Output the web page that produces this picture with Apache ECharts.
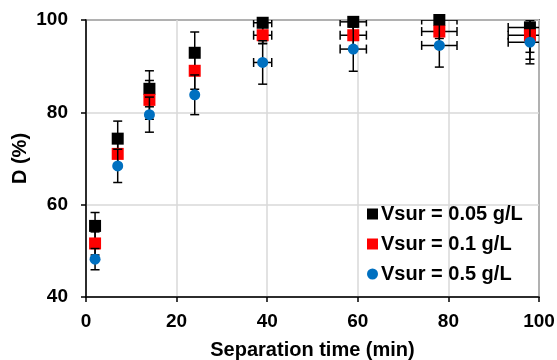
<!DOCTYPE html>
<html>
<head>
<meta charset="utf-8">
<script src="https://cdn.jsdelivr.net/npm/echarts@6/dist/echarts.min.js"></script>
<style>
html,body{margin:0;padding:0;background:#fff;}
#chart{width:557px;height:360px;}
</style>
</head>
<body>
<div id="chart"></div>
<script>
const times = [2, 7, 14, 24, 39, 59, 78, 98];
const timeErr = [0, 0, 0, 0, 2.0, 2.9, 3.9, 4.8];
const d005 = [55.4, 74.3, 85.1, 92.9, 99.4, 99.6, 100, 98.4];
const d01 = [51.6, 71.0, 82.7, 89.0, 96.7, 96.7, 97.5, 96.7];
const d05 = [48.2, 68.4, 79.5, 83.8, 90.8, 93.7, 94.5, 95.2];
const err005 = [2.9, 3.8, 3.9, 4.5, 4.5, 4.0, 4.0, 5.4];
const err01 = [2.5, 3.0, 4.2, 4.0, 1.8, 3.0, 3.0, 5.2];
const err05 = [2.3, 3.6, 3.8, 4.3, 4.7, 4.8, 4.7, 4.7];
const xTicks = [0, 20, 40, 60, 80, 100];
const yTicks = [40, 60, 80, 100];
const names = ['Vsur = 0.05 g/L', 'Vsur = 0.1 g/L', 'Vsur = 0.5 g/L'];

const FONT = "'Liberation Sans', Arial, sans-serif";
const chart = echarts.init(document.getElementById('chart'), null, {renderer: 'canvas'});

function errData(vals, errs) {
  return times.map((t, i) => [t, vals[i], errs[i], timeErr[i]]);
}
function renderErr(params, api) {
  const x = api.value(0), y = api.value(1), ye = api.value(2), xe = api.value(3);
  const c = api.coord([x, y]);
  const top = api.coord([x, y + ye]);
  const bot = api.coord([x, y - ye]);
  const cap = 4.5;
  const st = {stroke: '#000', lineWidth: 1.5};
  const ch = [
    {type: 'line', shape: {x1: c[0], y1: top[1], x2: c[0], y2: bot[1]}, style: st},
    {type: 'line', shape: {x1: c[0] - cap, y1: top[1], x2: c[0] + cap, y2: top[1]}, style: st},
    {type: 'line', shape: {x1: c[0] - cap, y1: bot[1], x2: c[0] + cap, y2: bot[1]}, style: st}
  ];
  if (xe > 0) {
    const l = api.coord([x - xe, y]);
    const r = api.coord([x + xe, y]);
    ch.push({type: 'line', shape: {x1: l[0], y1: c[1], x2: r[0], y2: c[1]}, style: st});
    ch.push({type: 'line', shape: {x1: l[0], y1: c[1] - cap, x2: l[0], y2: c[1] + cap}, style: st});
    ch.push({type: 'line', shape: {x1: r[0], y1: c[1] - cap, x2: r[0], y2: c[1] + cap}, style: st});
  }
  return {type: 'group', children: ch};
}

const series = [];
const vals = [d005, d01, d05];
const errs = [err005, err01, err05];
const colors = ['#000000', '#ff0000', '#0070c0'];
const symbols = ['rect', 'rect', 'circle'];
const sizes = [12, 12, 11];
for (let k = 0; k < 3; k++) {
  series.push({
    type: 'custom', name: names[k] + '_err', renderItem: renderErr,
    data: errData(vals[k], errs[k]), z: 2 + k * 2, clip: true, silent: true,
    encode: {x: 0, y: 1}
  });
  series.push({
    type: 'scatter', name: names[k], symbol: symbols[k], symbolSize: sizes[k],
    itemStyle: {color: colors[k], opacity: 1}, z: 3 + k * 2,
    data: times.map((t, i) => [t, vals[k][i]])
  });
}

chart.setOption({
  animation: false,
  backgroundColor: '#fff',
  grid: {left: 86, right: 18, top: 20, bottom: 63, containLabel: false, outerBoundsMode: 'none',
    show: true, borderColor: '#000', borderWidth: 1.5, backgroundColor: 'transparent'},
  legend: {
    data: names.map((n, i) => ({name: n, icon: symbols[i] === 'rect' ? 'rect' : 'circle'})),
    orient: 'vertical', left: 362, top: 199, itemWidth: 11, itemHeight: 11, itemGap: 10,
    textStyle: {fontFamily: FONT, fontWeight: 'bold', fontSize: 20, color: '#000', lineHeight: 20, padding: [0, 0, 0, -2]},
    selectedMode: false
  },
  xAxis: {
    type: 'value', min: 0, max: 100, interval: 20,
    name: 'Separation time (min)', nameLocation: 'middle', nameGap: 43, nameMoveOverlap: false,
    nameTextStyle: {fontFamily: FONT, fontWeight: 'bold', fontSize: 20, color: '#000'},
    axisLine: {lineStyle: {color: '#000', width: 1.5}},
    axisTick: {show: true, length: 5, lineStyle: {color: '#000', width: 1.5}},
    axisLabel: {fontFamily: FONT, fontWeight: 'bold', fontSize: 19, color: '#000', margin: 15,
      formatter: v => xTicks.includes(v) ? String(v) : ''},
    splitLine: {show: true, lineStyle: {color: '#d9d9d9', width: 1.5}}
  },
  yAxis: {
    type: 'value', min: 40, max: 100, interval: 20,
    name: 'D (%)', nameLocation: 'middle', nameGap: 56, nameRotate: 90, nameMoveOverlap: false,
    nameTextStyle: {fontFamily: FONT, fontWeight: 'bold', fontSize: 20, color: '#000'},
    axisLine: {lineStyle: {color: '#000', width: 1.5}},
    axisTick: {show: true, length: 5, lineStyle: {color: '#000', width: 1.5}},
    axisLabel: {fontFamily: FONT, fontWeight: 'bold', fontSize: 19, color: '#000', margin: 18,
      formatter: v => yTicks.includes(v) ? String(v) : ''},
    splitLine: {show: true, lineStyle: {color: '#d9d9d9', width: 1.5}}
  },
  series: series
});
</script>
</body>
</html>
